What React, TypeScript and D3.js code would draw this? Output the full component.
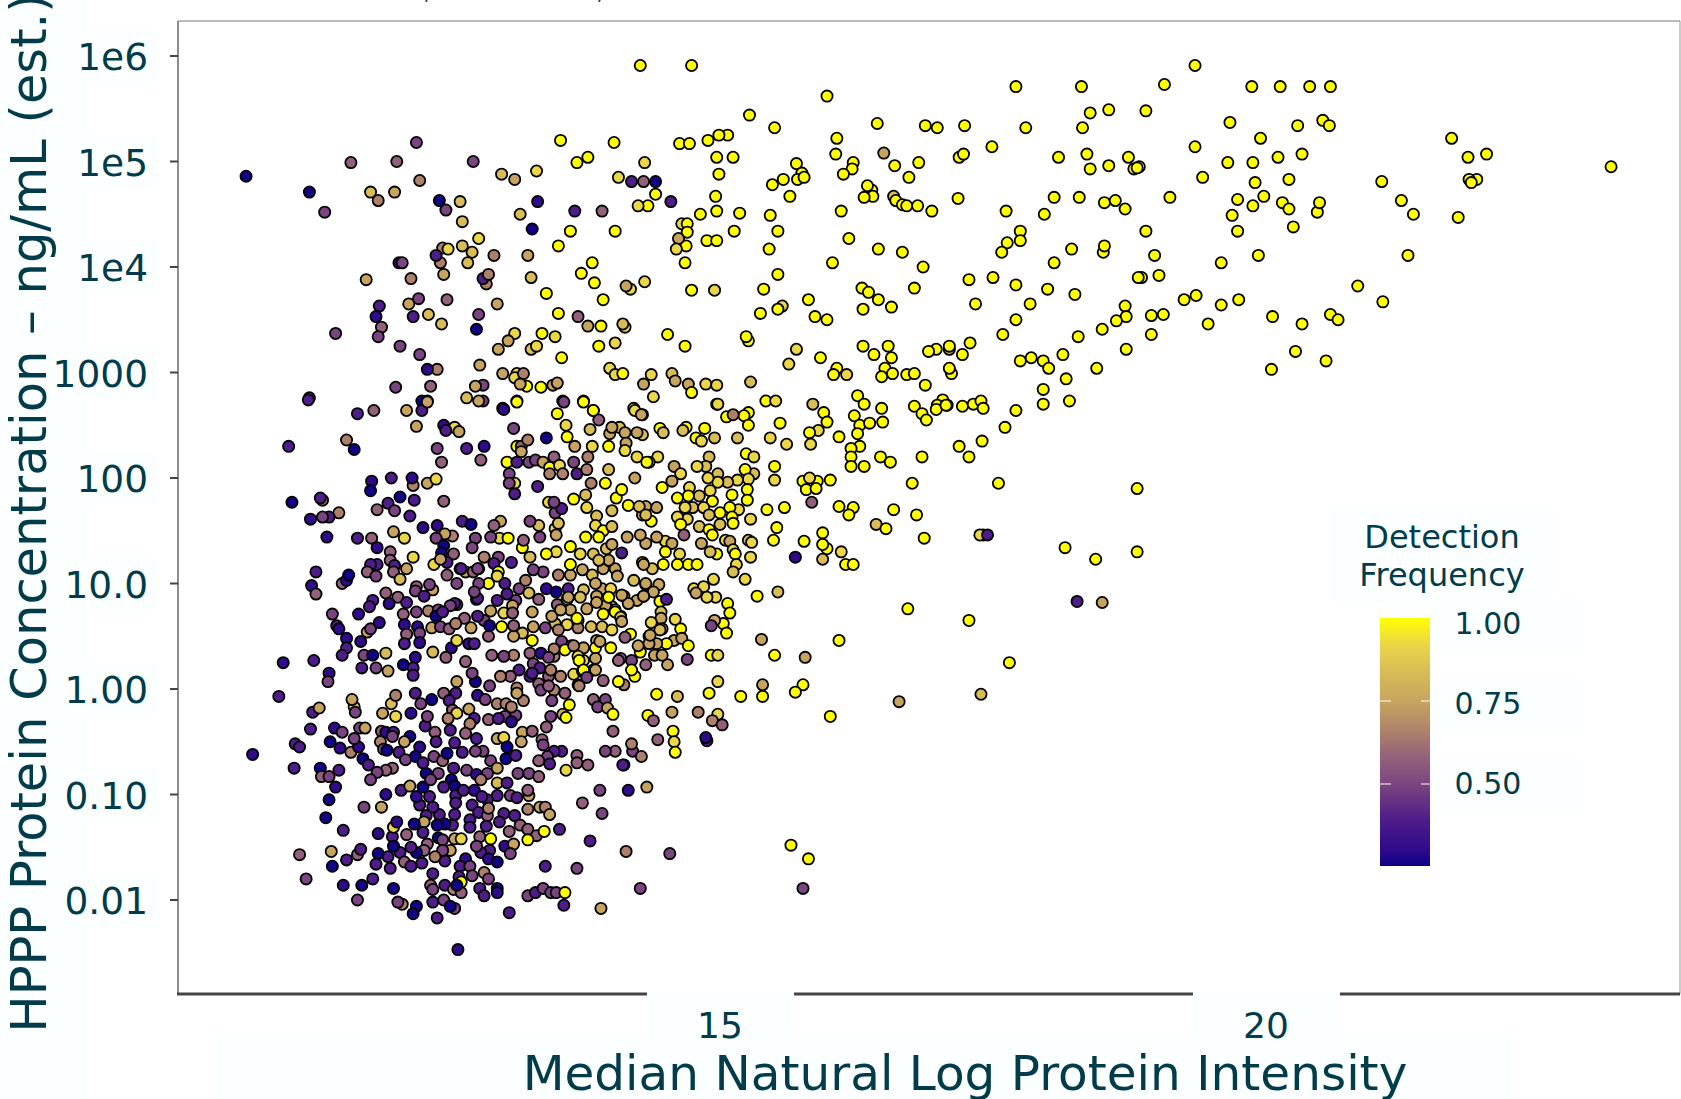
import React from 'react'
import * as d3 from 'd3'

// every protein is [median ln intensity, log10 ng/mL, detection frequency]
type Protein = [number, number, number]

const upperRight: Protein[] = [
  [19.35,5.91,1],[19.07,5.73,1],[19.87,5.71,1],[20.13,5.71,1],[20.40,5.71,1],[20.59,5.71,1],[18.90,5.48,1],[19.67,5.37,1],[20.29,5.34,1],[20.52,5.39,1],[20.58,5.34,1],[19.95,5.22,1],[21.70,5.22,1],[19.35,5.14,1],[19.65,4.99,1],[19.88,4.99,1],[20.11,5.04,1],[20.33,5.07,1],[21.85,5.04,1],[22.02,5.07,1],[23.16,4.95,1],[18.84,4.95,1],[19.42,4.85,1],[20.21,4.83,1],[19.90,4.80,1],[21.06,4.81,1],[21.93,4.83,1],[21.86,4.83,1],[21.88,4.80,1],[19.12,4.66,1],[19.74,4.64,1],[19.98,4.67,1],[19.88,4.58,1],[20.15,4.61,1],[20.21,4.55,1],[20.47,4.52,1],[20.49,4.61,1],[21.24,4.63,1],[21.35,4.50,1],[21.76,4.47,1],[19.69,4.49,1],[18.90,4.34,1],[19.74,4.34,1],[20.25,4.38,1],[18.98,4.11,1],[19.93,4.11,1],[21.30,4.11,1],[19.59,4.04,1],[19.02,3.92,1],[18.86,3.90,1],[20.84,3.82,1],[21.07,3.67,1],[19.36,3.73,1],[19.25,3.69,1],[19.59,3.64,1],[19.75,3.69,1],[19.06,3.55,1],[18.95,3.54,1],[20.06,3.53,1],[20.33,3.46,1],[20.59,3.55,1],[20.66,3.50,1],[19.47,3.46,1],[18.95,3.36,1],[20.27,3.20,1],[20.55,3.11,1],[20.05,3.03,1],
]

const upperMiddle: Protein[] = [
  [14.74,5.91,1],[14.27,5.91,1],[17.71,5.71,1],[18.31,5.71,1],[15.98,5.62,1],[18.39,5.46,1],[18.56,5.49,1],[15.27,5.44,1],[16.44,5.36,1],[16.88,5.34,1],[16.99,5.32,1],[17.24,5.34,1],[17.80,5.32,1],[18.32,5.32,1],[15.50,5.32,1],[15.07,5.25,1],[14.99,5.25,1],[14.89,5.20,1],[14.63,5.17,1],[14.72,5.17,1],[16.07,5.22,1],[16.50,5.08,.75],[17.49,5.14,1],[16.06,5.07,1],[17.19,5.04,1],[17.23,5.07,1],[14.97,5.04,1],[15.12,5.04,1],[18.10,5.04,1],[18.36,5.07,1],[18.74,5.04,1],[18.79,4.93,1],[18.82,4.94,1],[14.31,4.99,.92],[15.70,4.98,1],[14.99,4.88,1],[16.22,4.99,1],[16.21,4.93,1],[16.82,4.99,1],[16.60,4.96,1],[18.39,4.93,1],[18.56,4.96,1],[16.13,4.88,1],[15.75,4.89,1],[15.71,4.83,1],[15.77,4.85,1],[15.58,4.83,1],[15.48,4.78,1],[16.73,4.85,1],[16.39,4.73,1],[16.35,4.77,1],[14.30,4.81,.58],[14.41,4.81,.27],[14.55,4.62,.4],[14.41,4.69,1],[14.34,4.58,1],[14.96,4.67,1],[15.64,4.67,1],[16.40,4.67,1],[16.32,4.66,1],[16.59,4.67,.84],[16.61,4.63,1],[16.67,4.59,1],[16.71,4.58,1],[16.81,4.58,1],[16.94,4.53,1],[17.18,4.65,1],[18.06,4.66,1],[18.29,4.66,1],[18.52,4.61,1],[18.62,4.63,1],[18.71,4.55,1],[17.62,4.53,1],[17.97,4.50,1],[16.11,4.53,1],[14.97,4.53,1],[15.18,4.51,1],[14.82,4.50,1],[15.46,4.49,1],[14.65,4.41,.92],[14.70,4.41,1],[14.70,4.33,1],[14.69,4.20,1],[14.62,4.27,.75],[14.60,4.17,.92],[14.68,4.04,1],[15.13,4.34,1],[15.53,4.34,1],[14.88,4.25,1],[14.97,4.25,1],[15.45,4.17,1],[16.18,4.27,1],[16.45,4.17,1],[16.67,4.14,1],[17.75,4.34,1],[17.75,4.25,1],[17.63,4.23,1],[17.58,4.14,1],[18.22,4.17,1],[18.51,4.14,1],[18.52,4.20,1],[16.03,4.04,1],[16.86,4.00,1],[18.06,4.04,1],[15.53,3.93,1],[14.31,3.86,.92],[14.74,3.78,1],[14.95,3.78,.92],[15.40,3.79,1],[16.30,3.80,1],[16.36,3.76,1],[16.45,3.69,1],[16.57,3.62,1],[16.31,3.60,1],[16.78,3.80,1],[17.28,3.88,1],[17.50,3.90,1],[17.71,3.83,1],[18.00,3.79,1],[18.25,3.74,1],[18.83,3.90,1],[17.34,3.65,1],[17.84,3.65,1],[17.71,3.50,1],[17.59,3.36,1],[18.71,3.63,1],[18.72,3.53,1],[18.63,3.49,1],[18.50,3.41,1],[18.28,3.34,1],[18.72,3.22,1],[15.81,3.69,1],[15.87,3.53,1],[15.98,3.50,1],[15.57,3.63,.92],[15.53,3.60,1],[15.37,3.56,1],[14.52,3.36,1],[14.68,3.25,1],[15.26,3.30,1],[15.24,3.34,1],[15.70,3.22,.92],[16.31,3.25,1],[16.41,3.17,1],[16.54,3.25,1],[16.57,3.14,1],[16.51,3.04,1],[16.58,2.99,1],[16.48,2.96,1],[16.71,2.98,1],[16.78,2.99,1],[16.88,2.88,1],[16.98,3.22,1],[16.91,3.20,1],[17.10,3.22,.84],[17.10,3.25,1],[17.22,3.17,1],[17.29,3.28,1],[15.92,3.14,1],[15.63,3.08,.92],[16.07,3.04,1],[16.04,2.98,1],[16.16,2.98,.92],[17.12,2.99,1],[17.10,3.04,1],[17.75,3.11,1],[17.85,3.14,1],[17.96,3.11,1],[18.01,3.04,1],[18.14,3.17,1],[18.45,3.04,1],[18.17,2.94,1],[17.96,2.84,1],[18.20,2.73,1],[17.96,2.70,1],[16.26,2.78,1],[16.32,2.70,1],[16.48,2.66,1],[16.78,2.68,1],[17.04,2.74,1],[16.99,2.69,1],[17.08,2.69,1],[17.22,2.68,1],[17.32,2.70,1],[17.39,2.73,1],[17.41,2.66,1],[17.71,2.64,1],[14.37,2.98,.92],[14.56,2.99,.84],[14.59,2.92,.75],[14.71,2.89,.75],[14.30,2.89,.75],[14.87,2.89,.92],[14.97,2.88,.92],[14.74,2.81,1],[14.39,2.77,.92],[14.97,2.70,.92],[15.28,2.91,.84],[15.42,2.73,1],[15.51,2.73,.92],[15.85,2.70,.84],
]

const upperLeft: Protein[] = [
  [10.66,4.86,.27],[11.24,4.71,.27],[11.38,4.52,.5],[11.62,4.99,.58],[12.04,5.00,.58],[12.22,5.18,.5],[12.25,4.82,.66],[12.74,5.00,.5],[11.80,4.71,.84],[11.87,4.63,.66],[12.02,4.71,.75],[12.43,4.63,.27],[12.49,4.54,.5],[12.62,4.62,.84],[12.64,4.43,.84],[13.00,4.88,.84],[13.12,4.83,.75],[13.32,4.91,.92],[14.07,4.85,.92],[13.54,5.20,1],[14.03,5.18,1],[13.69,4.99,1],[13.79,5.04,1],[14.19,4.81,.4],[14.25,4.58,.92],[13.33,4.62,.31],[13.67,4.53,.4],[13.92,4.53,.58],[13.17,4.50,.84],[13.28,4.36,.27],[13.63,4.34,1],[14.04,4.34,1],[13.52,4.20,1],[12.79,4.27,.92],[12.64,4.20,.84],[12.46,4.18,.66],[12.51,4.17,.92],[12.73,4.14,.84],[12.69,4.04,.84],[12.44,4.04,.66],[12.40,4.11,.4],[12.47,3.93,.75],[12.93,4.11,.66],[13.24,4.11,.75],[13.27,3.90,.84],[12.86,3.84,.66],[12.83,3.89,.4],[12.88,3.93,.66],[12.06,4.04,.31],[12.09,4.04,.5],[11.76,3.88,.75],[12.17,3.89,.66],[13.83,4.04,1],[13.73,3.94,1],[13.85,3.85,1],[14.18,3.79,.92],[14.14,3.82,.75],[13.41,3.75,1],[13.93,3.69,1],[12.15,3.65,.75],[12.24,3.70,.5],[12.50,3.69,.58],[12.96,3.65,.75],[11.88,3.63,.4],[11.85,3.53,.31],[11.90,3.43,.58],[11.87,3.34,.5],[11.48,3.37,.5],[12.19,3.53,.4],[12.33,3.55,.84],[12.45,3.46,.84],[12.79,3.55,.5],[12.77,3.41,.27],[13.52,3.56,1],[13.70,3.53,.58],[13.79,3.44,.75],[13.91,3.44,1],[14.13,3.43,.92],[14.11,3.46,.84],[13.12,3.37,.92],[13.06,3.30,.75],[12.97,3.22,.75],[13.27,3.22,.84],[13.32,3.25,.92],[13.37,3.37,1],[13.49,3.34,.92],[13.89,3.25,1],[14.04,3.28,.92],[13.55,3.14,1],[12.07,3.25,.5],[12.25,3.17,.5],[12.41,3.03,.66],[12.32,3.03,.31],[12.80,3.07,.75],[13.01,2.99,.75],[13.14,2.99,.92],[13.12,2.95,.92],[13.20,2.99,.66],[13.23,2.87,1],[13.17,2.89,.75],[13.36,2.86,1],[13.47,2.88,.75],[13.51,2.90,.75],[13.99,3.04,.92],[14.04,2.98,.92],[14.11,2.99,1],[12.03,2.86,.5],[12.35,2.87,.58],[11.24,2.76,.4],[12.83,2.88,.5],[12.76,2.87,.75],[12.68,2.76,.84],[12.83,2.73,.5],[12.79,2.73,.75],[13.14,2.73,.92],[13.56,2.73,.5],[13.75,2.73,1],[12.27,2.73,.27],[12.32,2.73,.66],[13.01,2.66,.31],[13.84,2.64,1],[14.21,2.66,1],
]

const centerRight: Protein[] = [
  [14.98,2.70,.92],[15.95,2.62,1],[15.98,2.53,1],[16.23,2.59,1],[16.28,2.50,1],[16.37,2.52,1],[16.49,2.53,1],[16.26,2.42,1],[16.09,2.39,1],[15.90,2.45,.92],[15.82,2.43,1],[15.83,2.32,.92],[15.61,2.32,.92],[15.46,2.38,.92],[15.55,2.52,1],[15.26,2.62,1],[15.22,2.59,1],[15.26,2.50,1],[15.06,2.58,1],[15.12,2.60,.66],[14.86,2.47,1],[14.69,2.48,1],[14.66,2.45,.84],[14.45,2.47,1],[14.48,2.43,.84],[14.29,2.41,.84],[14.29,2.60,.92],[14.78,2.38,1],[14.83,2.35,.92],[14.95,2.38,.84],[15.16,2.38,.84],[16.28,2.30,1],[16.20,2.28,1],[16.20,2.20,1],[16.20,2.11,1],[16.32,2.11,1],[16.47,2.20,1],[16.56,2.15,1],[16.85,2.61,1],[16.89,2.55,1],[16.98,2.65,1],[17.07,2.69,1],[17.61,2.48,1],[17.40,2.35,1],[17.19,2.30,1],[17.28,2.20,1],[16.85,2.20,1],[16.76,1.95,1],[17.55,1.95,1],[18.82,1.90,1],[16.01,1.98,1],[15.76,1.97,1],[15.89,1.97,1],[15.82,2.00,.92],[15.79,1.89,1],[15.88,1.90,1],[15.84,1.77,.58],[15.50,2.11,1],[15.50,1.98,.92],[15.31,2.04,.84],[15.23,2.08,1],[15.26,1.99,.92],[15.16,1.98,.92],[15.07,1.96,.84],[14.90,2.20,.84],[14.98,2.04,.84],[14.98,1.96,.92],[14.89,2.00,.92],[14.87,2.11,.84],[14.79,2.11,.92],[14.58,2.11,.75],[14.64,2.04,.92],[14.56,1.97,.75],[14.47,1.91,1],[14.43,2.20,.92],[14.35,2.15,1],[15.24,2.23,1],[15.31,2.20,.92],[14.72,1.91,.92],[14.91,1.88,.92],[15.11,1.84,1],[15.25,1.89,1],[15.25,1.79,1],[14.81,1.83,.84],[14.71,1.83,1],[14.61,1.81,1],[14.93,1.78,1],[14.75,1.72,.84],[14.85,1.72,.92],[14.68,1.72,.92],[15.00,1.67,1],[14.90,1.65,.84],[15.17,1.70,.92],[15.09,1.72,1],[15.11,1.63,1],[15.12,1.57,1],[15.00,1.56,.84],[14.81,1.54,.84],[14.70,1.61,.92],[14.61,1.63,.92],[14.64,1.56,1],[14.42,1.72,.75],[14.32,1.73,.75],[14.29,1.65,.75],[14.37,1.59,1],[15.28,1.61,.92],[15.43,1.70,1],[15.59,1.72,1],[15.52,1.53,1],[15.49,1.41,1],[14.90,1.51,1],[14.93,1.46,1],[14.67,1.46,.58],[14.83,1.38,.75],[15.05,1.41,.92],[15.09,1.40,.75],[15.12,1.32,.92],[15.26,1.41,.84],[15.29,1.39,.92],[15.28,1.25,.92],[15.14,1.28,1],[14.97,1.28,1],[14.91,1.30,.84],[14.50,1.40,.92],[14.42,1.44,.75],[14.56,1.38,.75],[14.32,1.38,.75],[14.50,1.30,1],[14.63,1.28,.92],[14.71,1.18,1],[14.79,1.18,1],[14.61,1.18,1],[14.48,1.18,1],[14.38,1.14,.84],[14.29,1.20,.75],[15.15,1.18,.92],[15.12,1.11,.84],[15.23,1.04,.92],[16.09,1.73,1],[16.22,1.72,1],[16.18,1.65,1],[16.59,1.70,1],[16.43,1.56,.84],[16.52,1.52,1],[16.80,1.65,1],[16.87,1.43,1],[18.16,1.34,1],[18.44,1.23,1],[18.82,1.30,1],[17.41,1.46,1],[17.38,1.46,.92],[17.45,1.46,.4],[15.94,1.48,1],[15.98,1.33,1],[15.94,1.37,1],[15.77,1.40,1],[15.69,1.25,.31],[15.94,1.23,.84],[16.11,1.30,.92],[16.15,1.18,1],[16.22,1.18,1],[14.94,1.04,.92],[14.76,.95,.92],[14.85,.97,.92],[14.78,.91,.75],[14.96,.87,.92],[14.88,.87,.92],[15.34,.88,1],[15.53,.92,.84],[14.45,.83,1],[14.51,.85,.4],[14.32,.99,.75],[14.44,.99,.75],[14.39,.92,.75],[14.30,.88,.75],[15.07,.81,1],[15.09,.72,1],[15.03,.62,1],[15.06,.53,1],[14.95,.65,.75],[14.92,.60,.5],[14.46,.73,.84],[14.46,.67,.75],[14.37,.63,.92],[14.59,.66,.92],[14.64,.57,1],[14.47,.57,.75],[14.58,.46,.75],[14.65,.48,.75],[14.51,.43,1],[14.71,.41,1],[14.35,.50,.75],[14.42,.43,.75],[14.35,.43,.75],[14.92,.32,1],[14.98,.32,.92],[14.70,.28,.5],[14.52,.23,.75],[14.40,.32,.75],[14.47,.32,.75],[14.32,.23,.58],[15.50,.32,1],[15.38,.47,.75],[15.78,.30,.75],[16.09,.46,1],[16.72,.76,1],[17.28,.65,1],[17.65,.25,1],[18.27,.83,.4],[18.50,.82,.75],[17.39,-.05,.84],[16.64,-.12,.75],[14.98,.07,.92],[14.90,-.04,1],[14.61,-.07,.84],[14.42,-.05,1],[15.19,-.07,1],[15.39,.04,.75],[15.39,-.07,1],[15.76,.04,1],[15.69,-.03,1],[16.01,-.26,1],[14.34,-.25,1],[14.39,-.30,.58],[14.56,-.22,.75],[14.80,-.22,.66],[14.98,-.24,.92],[14.93,-.30,.66],[15.02,-.34,.58],[14.57,-.40,1],[14.58,-.50,.92],[14.59,-.60,1],[14.43,-.48,.58],[14.88,-.49,.4],[14.87,-.46,.31],[14.20,-.59,.5],[14.19,-.52,.66],[14.28,-.64,.66],[14.12,-.72,.4],[14.16,-.96,.31],[14.33,-.93,.75],[14.14,-1.54,.66],[14.54,-1.56,.5],[14.27,-1.89,.5],[15.65,-1.48,1],[15.81,-1.61,1],[15.76,-1.89,.5],
]

const centerLeft: Protein[] = [
  [11.05,2.30,.4],[11.58,2.36,.66],[11.65,2.27,.27],[11.23,2.74,.4],[11.68,2.61,.4],[11.83,2.64,.58],[12.13,2.64,.75],[12.27,2.64,.4],[12.32,2.72,.75],[13.02,2.65,.31],[12.22,2.49,.75],[12.47,2.50,.31],[12.57,2.48,.92],[12.49,2.45,.4],[12.61,2.44,.75],[13.11,2.47,.5],[13.41,2.38,.27],[13.51,2.61,1],[13.59,2.50,.92],[13.60,2.39,1],[13.81,2.46,.84],[13.84,2.64,1],[13.75,2.72,1],[13.57,2.72,.5],[13.14,2.72,1],[13.89,2.55,.58],[13.67,2.30,.75],[13.83,2.30,.92],[13.98,2.30,1],[13.99,2.42,.75],[14.08,2.48,.84],[14.01,2.48,.75],[14.13,2.43,.75],[14.24,2.43,.75],[14.14,2.33,.75],[14.13,2.26,.92],[14.24,2.20,.92],[14.33,2.15,1],[14.22,2.64,.92],[14.28,2.60,.75],[12.41,2.28,.5],[12.45,2.15,.58],[12.68,2.28,.4],[12.84,2.30,.31],[12.81,2.17,.58],[13.14,2.30,1],[13.18,2.30,.58],[13.18,2.25,.75],[13.24,2.36,.66],[13.05,2.15,1],[13.14,2.15,.4],[13.25,2.15,.5],[13.31,2.17,.5],[13.38,2.15,.75],[13.48,2.20,.58],[13.44,2.10,1],[13.44,2.04,.66],[13.53,2.12,.92],[13.56,2.04,.66],[13.66,2.15,.5],[13.69,2.04,.4],[13.78,2.08,.66],[13.79,2.20,.66],[13.82,1.95,.66],[13.95,1.95,1],[13.98,2.08,.84],[14.22,2.00,.75],[13.33,1.92,.4],[13.12,1.95,.92],[13.07,2.04,.5],[13.07,1.95,.5],[13.12,1.85,.4],
  [11.81,1.97,.31],[11.80,1.88,.27],[11.99,2.00,.4],[12.19,1.93,.66],[12.18,2.00,.31],[12.32,1.95,.75],[12.40,1.99,.92],[12.07,1.82,.27],[12.20,1.79,.4],[11.96,1.76,.4],[11.86,1.70,.58],[12.02,1.69,.5],[12.16,1.64,.4],[12.47,1.78,.58],[11.08,1.77,.27],[11.36,1.79,.66],[11.34,1.81,.4],[11.51,1.67,.66],[11.42,1.63,.4],[11.36,1.63,.5],[11.25,1.61,.31],[11.40,1.44,.31],[11.68,1.43,.4],[11.81,1.43,.58],[11.86,1.34,.31],[12.01,1.49,.75],[12.11,1.43,.92],[12.28,1.53,.31],[12.41,1.55,.31],[12.55,1.45,.66],[12.48,1.47,.75],[12.40,1.43,.5],[12.47,1.36,.27],[12.45,1.29,.27],[12.56,1.28,.58],[12.38,1.18,.92],[12.50,1.20,.4],[12.44,1.23,.75],[12.19,1.25,.92],[12.13,1.14,.75],[11.98,1.30,.58],[11.98,1.22,.58],[12.02,1.17,.4],[12.01,1.11,.58],[12.07,1.04,.84],[11.86,1.18,.4],[11.80,1.18,.4],[11.77,1.11,.58],[11.85,1.07,.5],[11.30,1.11,.4],[11.54,1.00,.58],[11.58,1.03,.31],[11.60,1.08,.27],[11.26,.98,.31],[11.30,.90,.58],[11.45,.71,.5],[11.69,.71,.31],[11.49,.60,.4],[11.51,.57,.31],[11.77,.54,.75],[11.80,.57,.5],[11.88,.63,.31],[11.82,.84,.4],[11.79,.78,.4],[12.05,.87,.58],[11.94,.91,.58],[12.13,.82,.4],[11.97,.81,.31],[12.22,.73,.5],[12.10,.71,.58],[12.37,.94,.75],[12.22,.97,.58],[12.34,.99,.5],[12.21,.93,.5],[12.29,.88,.4],[12.33,.74,.66],[12.42,.75,.5],[12.40,.69,.27],[11.58,.48,.31],[11.71,.45,.31],[11.58,.39,.4],[11.54,.32,.4],[11.74,.32,.5],[11.82,.32,.27],[11.94,.34,.84],[12.11,.61,.31],[12.23,.59,.31],[12.25,.53,.5],[12.13,.52,.58],[12.25,.44,.31],[12.11,.43,.4],[12.37,.35,.84],[12.36,.58,.75],[12.44,.59,.5],[12.52,.57,.58],[12.66,.67,.58],[12.54,.39,.31],[12.59,.46,.92],[12.70,.43,.31],[12.75,.43,.4],[12.88,.50,.58],[12.72,.58,.75],[12.49,.30,.58],[12.21,.30,.31],[12.10,.23,.27],[12.19,.20,.4],[12.19,.13,.4],[11.72,.20,.4],[11.85,.20,.5],[11.96,.17,.75],[11.42,.15,.31],[11.41,.07,.5],[11.28,.27,.4],[11.00,.25,.31],[10.96,-.07,.4],
]

const denseCore: Protein[] = [
  [12.64,1.59,.4],[12.72,1.56,.27],[12.98,1.43,.92],[13.06,1.43,1],[13.19,1.34,1],[12.90,1.44,.5],[12.76,1.43,.5],[12.73,1.34,.5],[12.84,1.25,.66],[12.97,1.25,.5],[13.09,1.20,.4],[12.93,1.19,.4],[12.79,1.14,.5],[12.62,1.14,.4],[12.67,1.11,.75],[12.74,1.11,.58],[12.97,1.11,1],[12.96,1.07,.92],[12.88,1.00,1],[12.79,1.00,.5],[13.03,1.00,.4],[13.16,.95,.5],[13.25,.91,.84],[13.13,.84,.5],[12.96,.84,.4],[12.77,.85,.4],[12.59,.80,.58],[12.57,.81,.4],[12.90,.74,.75],[13.09,.73,.75],[13.28,.73,.75],[13.34,.85,.58],[13.51,.80,.58],[13.41,.95,.31],[13.50,.92,.27],[13.61,.95,.4],[13.60,.85,.84],[13.26,1.25,.84],[13.38,1.11,.5],[13.52,1.08,.66],[13.63,1.08,.75],[13.20,1.41,.58],[13.34,1.55,.84],[13.35,1.44,.5],[13.49,1.52,.92],[13.50,1.46,.75],[13.26,1.59,.5],[12.99,1.59,.75],[12.93,1.55,.58],[13.49,1.67,.5],[13.55,1.71,.4],[13.43,1.77,.92],[13.48,1.77,.5],[13.52,1.57,.84],[13.66,1.80,1],[13.78,1.72,.92],[13.77,1.84,.84],[13.87,1.64,.84],[13.86,1.55,.92],[13.93,1.50,1],[14.01,1.54,.84],[13.77,1.44,1],[13.89,1.44,1],[14.01,1.69,.84],[14.05,1.81,1],[14.10,1.89,1],[14.16,1.74,1],[14.26,1.73,.84],[14.32,1.65,.84],[14.15,1.44,.75],[13.96,1.33,.84],[13.84,1.28,.84],[13.63,1.35,1],[13.72,1.28,.92],[13.50,1.30,.92],[13.41,1.28,1],[14.10,1.29,.4],[14.01,1.37,.75],[14.27,1.46,.75],
  [13.63,1.18,1],[13.74,1.13,.75],[13.83,1.08,.84],[13.93,1.14,.75],[14.04,1.14,.75],[13.98,1.22,.75],[13.89,1.22,.84],[14.06,1.07,.75],[14.21,1.03,.84],[14.30,1.18,.75],[14.12,.88,.75],[14.01,.78,.75],[13.92,.95,.75],[14.04,.75,1],[14.09,.69,.75],[14.24,.84,.75],[14.30,.88,.75],[14.16,.81,.75],[13.75,.94,.84],[13.78,.76,.75],[13.87,.88,.75],[13.96,.78,.75],[13.82,.59,.84],[13.92,.59,.84],[14.01,.56,.92],[13.70,.65,.92],[13.60,.61,.92],[13.49,.62,.84],[13.70,.58,.66],[13.46,.69,.75],[13.63,.75,.75],[13.52,.56,.66],[13.40,.58,.5],[13.29,.59,.75],[13.19,.53,.84],[13.28,.46,1],[13.11,.50,.75],[13.00,.59,1],[13.02,.72,.92],[12.84,.65,.5],[13.11,.32,.66],[13.26,.34,.58],[13.02,.31,.5],[12.91,.32,.58],[13.29,.24,.5],[13.36,.34,.31],[13.48,.31,.66],[13.55,.45,.5],[13.64,.41,.75],[13.58,.37,1],[13.75,.39,.75],[13.87,.46,.75],[13.86,.39,1],[14.00,.39,1],[13.75,.27,.92],[13.70,.31,.92],[13.86,.29,.75],[14.09,.29,.58],[14.19,.27,.5],[14.18,.52,1],[14.13,.49,.58],[13.84,.18,.75],[13.66,.14,.92],[13.74,.17,1],[13.54,.12,.66],[13.43,.12,.58],[13.34,.05,.58],[13.16,.18,.4],[13.35,.20,.4],[13.26,.12,.4],[13.08,.12,.58],[12.99,.12,.66],[13.14,.01,.66],[13.48,-.01,.66],[13.58,-.04,.58],[13.70,.04,.58],[13.93,.08,.58],[14.12,.04,.66],[14.22,.12,1],[14.19,.18,1],[14.07,.07,1],
  [12.50,1.08,.58],[12.59,1.00,.5],[12.63,1.14,.4],[12.78,1.14,.5],[12.78,.86,.4],[12.75,.92,.5],[12.53,.79,.5],[12.46,.73,.4],[13.05,.90,.4],[13.22,1.03,.66],[13.29,1.13,.5],[13.61,.87,.75],[13.10,.79,.75],[13.10,.72,.58],[12.78,.69,.4],[12.58,.62,.66],[12.89,.60,.27],[13.11,.60,.58],[12.67,.26,.58],[13.48,.38,.66],[13.43,.30,.5],[13.28,.15,.4],[13.45,.18,.66],[12.89,.03,.5],[12.76,.07,.27],[12.73,.15,.5],[12.59,.07,.75],[12.47,-.04,.58],[12.58,-.04,.4],[12.78,-.06,.31],[12.70,-.19,.75],[12.52,-.11,.4],[12.96,-.14,.66],[13.20,-.11,.66],[13.36,-.01,.5],[13.43,.03,.58],[13.46,-.11,.5],[13.13,-.25,.5],[12.75,-.28,.4],
  [14.00,.95,.92],[13.86,1.00,.75],[14.10,.89,.75],[14.32,1.00,.75],[13.95,.79,.75],[13.87,.82,.75],[13.54,.75,.75],[13.72,.87,.84],[13.98,.87,1],[13.93,.71,1],[14.04,.73,1],[14.09,.68,.84],[14.10,.64,.75],[13.69,.67,1],[13.66,.41,.66],[13.90,.45,.75],[13.71,.27,1],[13.75,.18,1],[13.86,.18,.75],[13.71,.03,.66],[13.78,.11,.5],[14.07,.27,.58],[14.27,.35,1],[14.25,.41,.75],[14.36,.51,.75],[14.45,.56,.84],
]

const lowerBand: Protein[] = [
  [13.04,-.14,.66],[12.85,-.10,.5],[12.55,-.20,.58],[12.59,-.23,.92],[12.36,-.10,.27],[12.26,-.14,.5],[12.21,-.04,.4],[13.14,-.04,.75],[13.09,-.17,.66],[13.03,-.26,.5],[12.51,-.28,.66],[12.71,-.33,.66],
  [10.72,-.62,.31],[11.10,-.75,.4],[11.25,-.38,.4],[11.27,-.22,.4],[11.33,-.18,.75],[11.11,-.52,.4],[11.15,-.55,.4],[11.47,-.37,.31],[11.54,-.41,.5],[11.43,-.50,.27],[11.52,-.56,.31],[11.62,-.60,.66],[11.69,-.55,.31],[11.73,-.66,.27],[11.78,-.72,.4],[11.34,-.75,.27],[11.35,-.83,.58],[11.42,-.83,.5],[11.51,-.77,.4],[11.48,-.93,.31],[11.42,-1.05,.27],[11.39,-1.22,.27],[11.55,-1.34,.4],[11.74,-1.12,.5],[11.90,-1.12,.75],[11.94,-1.00,.31],[12.08,-.96,.4],[12.16,-.92,.75],[12.28,-.93,.27],[11.65,-.17,.92],[11.63,-.10,.75],[11.66,-.22,.5],[11.91,-.23,.75],[11.99,-.14,.84],[12.03,-.06,.66],[12.03,-.26,.92],[12.17,-.23,.31],[11.70,-.37,.5],[11.75,-.37,.75],[11.65,-.47,.5],[11.90,-.40,.58],[11.94,-.41,.31],[12.01,-.41,.4],[12.00,-.45,.5],[11.89,-.50,.66],[11.92,-.57,.58],[11.95,-.58,.27],[12.06,-.60,.4],[12.16,-.45,.27],[12.11,-.50,.75],[12.30,-.35,.4],[12.32,-.26,.5],[12.25,-.55,.31],[12.21,-.64,.27],[12.12,-.67,.5],[12.28,-.70,.4],[12.00,-.75,.58],[11.94,-.77,.58],[11.86,-.79,.5],[11.80,-.86,.5],
  [12.39,-.41,.58],[12.40,-.50,.4],[12.38,-.64,.5],[12.46,-.68,.58],[12.53,-.39,.4],[12.57,-.51,.4],[12.64,-.60,.4],[12.50,-.61,.27],[12.67,-.42,.58],[12.56,-.75,.4],[12.42,-.80,.5],[12.31,-.80,.27],[12.35,-.86,.5],[12.54,-.86,.27],[12.57,-.92,.27],[12.47,-.93,.4],[12.77,-.47,.4],[12.83,-.59,.5],[12.76,-.59,.5],[12.88,-.29,.58],[12.97,-.28,.4],[13.09,-.31,.31],[12.96,-.47,.75],[13.02,-.46,.92],[13.19,-.41,.75],[13.28,-.40,.58],[13.18,-.50,.75],[13.05,-.55,.27],[13.04,-.66,.27],[13.13,-.63,.4],[12.90,-.68,.5],[12.96,-.75,.75],[12.87,-.80,.5],[12.68,-.77,.5],[12.77,-.81,.31],[12.81,-.86,.66],[12.96,-.89,.84],[13.05,-.89,.4],[13.15,-.80,.5],[13.25,-.80,.5],[13.34,-.83,.58],[13.41,-.36,.58],[13.45,-.26,.5],[13.37,-.48,.58],[13.38,-.53,.5],[13.55,-.59,.4],[13.48,-.59,.4],[13.42,-.64,.5],[13.34,-.68,.58],[13.44,-.71,.4],[13.69,-.63,.58],[13.69,-.70,.58],[13.79,-.72,.58],[13.59,-.77,.92],[13.56,-.24,.75],[13.62,-.15,1],[13.59,-.27,1],[13.84,-.10,.58],[13.95,-.10,.5],[13.88,-.17,.5],[13.97,-.18,.75],[14.02,-.24,1],[14.02,-.40,.58],[14.04,-.59,.58],[13.95,-.59,.5],[14.11,-.72,.4],[13.90,-.96,.5],[13.74,-1.08,.58],[13.92,-1.18,.5],[13.81,-1.44,.4],[13.53,-1.33,.4],[13.40,-1.68,.4],[13.69,-1.70,.5],[13.91,-2.08,.75],[13.07,-2.12,.4],[13.57,-2.05,.4],
  [13.25,-1.01,.75],[13.24,-.96,.58],[13.08,-1.01,.5],[12.96,-1.01,.4],[12.87,-1.05,.4],[13.14,-1.03,.4],[13.24,-1.14,.66],[13.35,-1.12,.75],[13.40,-1.12,.66],[13.44,-1.19,.75],[12.58,-1.01,.4],[12.65,-.96,.4],[12.75,-.96,.31],[12.82,-1.02,.4],[12.58,-1.08,.4],[12.73,-1.10,.4],[12.79,-1.17,.4],[12.87,-1.20,.58],[12.88,-1.13,.66],[13.02,-1.18,.4],[13.12,-1.20,.4],[12.98,-1.26,.4],[13.17,-1.29,.58],[13.24,-1.33,.58],[13.32,-1.39,.58],[13.39,-1.35,1],[13.24,-1.43,1],[13.07,-1.35,.58],[12.86,-1.30,.4],[12.71,-1.24,.4],[12.57,-1.19,.4],[12.71,-1.31,.4],[12.55,-1.29,.4],[12.43,-1.19,.4],[12.37,-1.12,.4],[12.34,-1.02,.4],[12.25,-1.10,.4],[12.22,-1.02,.31],[12.31,-1.20,.4],[12.29,-1.26,.75],[12.20,-1.28,.27],[12.48,-1.28,.27],[12.41,-1.29,.27],[12.28,-1.36,.4],[12.13,-1.38,.58],[12.00,-1.40,.4],[11.87,-1.37,.31],[12.01,-1.31,.92],[12.04,-1.26,.31],
  [12.42,-1.41,.27],[12.46,-1.43,.5],[12.57,-1.42,.75],[12.63,-1.42,.92],[12.80,-1.40,.58],[12.90,-1.42,1],[13.03,-1.49,.31],[13.11,-1.47,.75],[13.08,-1.56,.5],[12.89,-1.53,.4],[12.81,-1.55,.4],[12.88,-1.61,.31],[12.96,-1.64,.27],[12.77,-1.49,.5],[12.67,-1.61,.31],[12.62,-1.68,.4],[12.71,-1.68,.5],[12.48,-1.63,.4],[12.53,-1.53,.75],[12.46,-1.53,.5],[12.32,-1.47,.58],[12.29,-1.53,.58],[12.22,-1.55,.27],[12.17,-1.50,.4],[12.07,-1.55,.4],[12.01,-1.49,.27],[11.96,-1.59,.4],[11.87,-1.56,.27],[11.85,-1.66,.4],[11.98,-1.70,.4],[12.11,-1.64,.58],[12.17,-1.68,.4],[12.27,-1.65,.4],[12.39,-1.59,.66],[12.37,-1.75,.4],[12.73,-1.77,.5],[12.84,-1.74,.66],[12.88,-1.80,.5],[12.61,-1.78,.4],[12.63,-1.83,1],[12.35,-1.86,.58],[12.48,-1.86,.4],[12.56,-1.90,.66],[12.63,-1.93,.58],[12.59,-1.86,.27],[12.80,-1.89,.4],[12.96,-1.89,.27],[12.96,-1.93,.31],[12.84,-1.96,.4],[12.37,-1.90,.5],
  [11.15,-1.57,.58],[11.44,-1.54,.75],[11.58,-1.62,.4],[11.68,-1.57,.58],[11.71,-1.52,.4],[11.45,-1.68,.27],[11.21,-1.80,.5],[11.55,-1.86,.31],[11.72,-1.86,.27],[11.82,-1.80,.4],[12.01,-1.89,.27],[11.68,-2.00,.5],[12.09,-2.04,.66],[12.05,-2.02,.5],[12.22,-2.06,.27],[12.19,-2.13,.27],[12.41,-2.17,.4],[12.37,-2.02,.4],[12.47,-2.00,.5],[12.57,-2.08,.5],[12.53,-2.06,.27],[12.60,-2.47,.31],[13.24,-1.96,.5],[13.31,-1.93,.4],[13.38,-1.89,.5],[13.45,-1.93,.5],[13.50,-1.93,.5],[13.58,-1.93,1],
]

const yTickValues = [1e6, 1e5, 1e4, 1000, 100, 10, 1, 0.1, 0.01]
const yTickLabels = ['1e6', '1e5', '1e4', '1000', '100', '10.0', '1.00', '0.10', '0.01']
const xTickValues = [15, 20]
const legendTickValues = [1, 0.75, 0.5]
const detectionStops = [0.26, 0.31, 0.4, 0.5, 0.58, 0.66, 0.75, 0.84, 0.92, 1]
const detectionColors = ['#0c0087', '#2f0b8c', '#4e1d89', '#7a4481', '#92607a', '#ad806c', '#c6a45f', '#d8bc55', '#ebd647', '#ffff00']

const proteins = [...upperRight, ...upperMiddle, ...upperLeft, ...centerRight, ...centerLeft, ...denseCore, ...lowerBand]

const inkColor = '#023c4a'
const labelBack = '#fbffff'
const fontFamily = '"DejaVu Sans", Verdana, sans-serif'

export default function App() {
  const x = d3.scaleLinear().domain([15, 20]).range([720, 1266])
  const y = d3.scaleLog().domain([0.01, 1e6]).range([900, 56])
  const color = d3.scaleLinear<string>().domain(detectionStops).range(detectionColors)
  const legendY = d3.scaleLinear().domain([0.5, 1]).range([784, 618])
  // the colour bar labels are spaced a little tighter than its ticks
  const legendLabelY = d3.scaleLinear().domain([0.5, 1]).range([794, 634])

  const left = 178, right = 1680, top = 21, bottom = 994

  return (
    <svg
      width={1681}
      height={1099}
      viewBox="0 0 1681 1099"
      style={{ position: 'absolute', left: 0, top: 0, display: 'block', fontFamily }}>
      <defs>
        <linearGradient id="detection" x1="0" x2="0" y1="1" y2="0">
          {detectionStops.map((s, i) => (
            <stop key={s} offset={(s - 0.26) / 0.74} stopColor={detectionColors[i]} />
          ))}
        </linearGradient>
      </defs>

      {/* plot frame */}
      <line x1={left} x2={left} y1={top} y2={bottom} stroke="#666" strokeWidth={1.5} />
      <line x1={left} x2={right} y1={top} y2={top} stroke="#777" strokeWidth={1.2} />
      <line x1={right} x2={right} y1={top} y2={bottom} stroke="#999" strokeWidth={1} />
      <line x1={left - 1} x2={right} y1={bottom} y2={bottom} stroke="#444" strokeWidth={3} />

      {/* pale boxes the labels sit on */}
      <rect x={0} y={0} width={88} height={1099} fill={labelBack} />
      <rect x={214} y={1033} width={1300} height={66} fill={labelBack} />
      {yTickValues.map((t) => (
        <rect key={t} x={58} y={y(t) - 27} width={100} height={54} fill={labelBack} />
      ))}
      {xTickValues.map((t) => (
        <rect key={t} x={x(t) - 73} y={991} width={147} height={44} fill={labelBack} />
      ))}

      {/* y axis */}
      {yTickValues.map((t, i) => (
        <g key={t}>
          <line x1={170} x2={left} y1={y(t)} y2={y(t)} stroke="#444" strokeWidth={2} />
          <text x={148} y={y(t) + 14} textAnchor="end" fontSize={37.5} fill={inkColor}>{yTickLabels[i]}</text>
        </g>
      ))}
      <text
        transform="translate(46,513) rotate(-90)"
        textAnchor="middle"
        fontSize={49.5}
        fill={inkColor}>
        HPPP Protein Concentration – ng/mL (est.)
      </text>

      {/* x axis */}
      {xTickValues.map((t) => (
        <text key={t} x={x(t)} y={1038} textAnchor="middle" fontSize={36} fill={inkColor}>{t}</text>
      ))}
      <text x={965} y={1090} textAnchor="middle" fontSize={48.5} fill={inkColor}>Median Natural Log Protein Intensity</text>

      {/* title is cut off above the page */}
      <text x={427} y={0} fontSize={22} fill="#333" textAnchor="middle">,</text>
      <text x={600} y={0} fontSize={22} fill="#333" textAnchor="middle">,</text>

      {/* points */}
      <g stroke="#000" strokeWidth={1.8}>
        {proteins.map(([lnIntensity, logConc, detection], i) => (
          <circle key={i} cx={x(lnIntensity)} cy={y(10 ** logConc)} r={5.6} fill={color(detection)} />
        ))}
      </g>

      {/* colour bar */}
      <rect x={1330} y={505} width={224} height={98} fill={labelBack} />
      <text x={1442} y={548} textAnchor="middle" fontSize={32} fill={inkColor}>Detection</text>
      <text x={1442} y={586} textAnchor="middle" fontSize={32} fill={inkColor}>Frequency</text>
      <rect x={1380} y={618} width={50} height={248} fill="url(#detection)" />
      {legendTickValues.map((t) => (
        <g key={t}>
          <rect x={1436} y={legendLabelY(t) - 37} width={147} height={54} fill={labelBack} />
          {t < 1 && <line x1={1380} x2={1391} y1={legendY(t)} y2={legendY(t)} stroke="#fff" strokeWidth={1} />}
          {t < 1 && <line x1={1421} x2={1430} y1={legendY(t)} y2={legendY(t)} stroke="#fff" strokeWidth={1} />}
          <text x={1488} y={legendLabelY(t)} textAnchor="middle" fontSize={30} fill={inkColor}>{t.toFixed(2)}</text>
        </g>
      ))}
    </svg>
  )
}
